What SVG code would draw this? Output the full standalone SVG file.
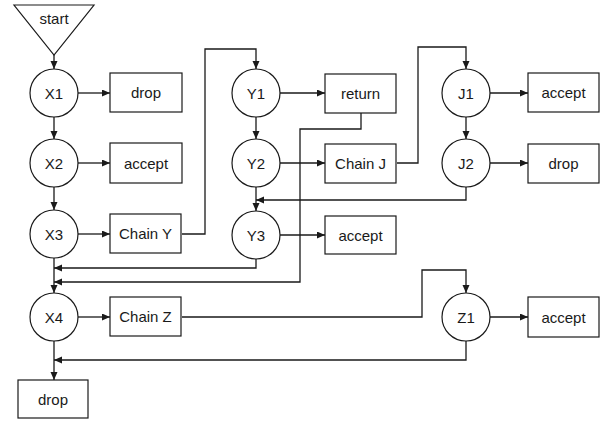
<svg xmlns="http://www.w3.org/2000/svg" width="609" height="422" viewBox="0 0 609 422">
  <defs>
    <marker id="arrow" markerUnits="userSpaceOnUse" markerWidth="9" markerHeight="8" refX="8" refY="3.5" orient="auto">
      <path d="M0,0 L8,3.5 L0,7 z" fill="#1a1a1a"/>
    </marker>
    <style>
      .node circle, .node rect, .node polygon { fill: #fff; stroke: #1a1a1a; stroke-width: 1.2; }
      .node text { font-family: "Liberation Sans", Arial, sans-serif; font-size: 15px; fill: #1a1a1a; text-anchor: middle; dominant-baseline: central; }
      #connectors path { fill: none; stroke: #1a1a1a; stroke-width: 1.3; }
      .arr { marker-end: url(#arrow); }
    </style>
  </defs>
  <rect width="609" height="422" fill="#fff"/>

  <g id="connectors">
    <!-- X column -->
    <path class="arr" d="M54,55 V69"/>
    <path class="arr" d="M78,93 H110"/>
    <path class="arr" d="M54,117 V139"/>
    <path class="arr" d="M78,163 H110"/>
    <path class="arr" d="M54,187 V210"/>
    <path class="arr" d="M78,234 H110"/>
    <path class="arr" d="M54,258 V293"/>
    <path class="arr" d="M78,317 H110"/>
    <path class="arr" d="M54,341 V380"/>
    <!-- Chain Y jump -->
    <path class="arr" d="M182,234 H205 V49 H256 V69"/>
    <!-- Y column -->
    <path class="arr" d="M280,93 H325"/>
    <path class="arr" d="M256,117 V139"/>
    <path class="arr" d="M280,163 H325"/>
    <path class="arr" d="M256,187 V211"/>
    <path class="arr" d="M280,235 H325"/>
    <!-- Chain J jump -->
    <path class="arr" d="M397,163 H418 V47 H466 V69"/>
    <!-- J column -->
    <path class="arr" d="M490,93 H528"/>
    <path class="arr" d="M466,117 V139"/>
    <path class="arr" d="M490,163 H528"/>
    <!-- returns back into the chains -->
    <path class="arr" d="M466,187 V200 H256"/>
    <path class="arr" d="M256,259 V268 H54"/>
    <path class="arr" d="M361,113 V129 H300 V282 H54"/>
    <!-- Chain Z jump -->
    <path class="arr" d="M182,317 H422 V270 H466 V293"/>
    <path class="arr" d="M490,317 H528"/>
    <path class="arr" d="M466,341 V360 H54"/>
  </g>

  <g id="start" class="node">
    <polygon points="14,5 94,5 54,55"/>
    <text x="54" y="18">start</text>
  </g>

  <g id="X1" class="node"><circle cx="54" cy="93" r="24"/><text x="54" y="93">X1</text></g>
  <g id="X1-drop" class="node"><rect x="110" y="73" width="72" height="39"/><text x="146" y="92.5">drop</text></g>
  <g id="X2" class="node"><circle cx="54" cy="163" r="24"/><text x="54" y="163">X2</text></g>
  <g id="X2-accept" class="node"><rect x="110" y="143" width="72" height="40"/><text x="146" y="163">accept</text></g>
  <g id="X3" class="node"><circle cx="54" cy="234" r="24"/><text x="54" y="234">X3</text></g>
  <g id="chain-Y" class="node"><rect x="110" y="214" width="71" height="39"/><text x="145.5" y="233.5">Chain Y</text></g>
  <g id="X4" class="node"><circle cx="54" cy="317" r="24"/><text x="54" y="317">X4</text></g>
  <g id="chain-Z" class="node"><rect x="110" y="297" width="71" height="39"/><text x="145.5" y="316.5">Chain Z</text></g>
  <g id="final-drop" class="node"><rect x="18" y="380" width="70" height="38"/><text x="53" y="399">drop</text></g>

  <g id="Y1" class="node"><circle cx="256" cy="93" r="24"/><text x="256" y="93">Y1</text></g>
  <g id="Y1-return" class="node"><rect x="325" y="74" width="71" height="39"/><text x="360.5" y="93">return</text></g>
  <g id="Y2" class="node"><circle cx="256" cy="163" r="24"/><text x="256" y="163">Y2</text></g>
  <g id="chain-J" class="node"><rect x="325" y="144" width="71" height="39"/><text x="360.5" y="163.5">Chain J</text></g>
  <g id="Y3" class="node"><circle cx="256" cy="235" r="24"/><text x="256" y="235">Y3</text></g>
  <g id="Y3-accept" class="node"><rect x="325" y="216" width="71" height="38"/><text x="360.5" y="235">accept</text></g>

  <g id="J1" class="node"><circle cx="466" cy="93" r="24"/><text x="466" y="93">J1</text></g>
  <g id="J1-accept" class="node"><rect x="528" y="73" width="71" height="39"/><text x="563.5" y="92.5">accept</text></g>
  <g id="J2" class="node"><circle cx="466" cy="163" r="24"/><text x="466" y="163">J2</text></g>
  <g id="J2-drop" class="node"><rect x="528" y="144" width="71" height="39"/><text x="563.5" y="163.5">drop</text></g>

  <g id="Z1" class="node"><circle cx="466" cy="317" r="24"/><text x="466" y="317">Z1</text></g>
  <g id="Z1-accept" class="node"><rect x="528" y="297" width="71" height="40"/><text x="563.5" y="317">accept</text></g>
</svg>
